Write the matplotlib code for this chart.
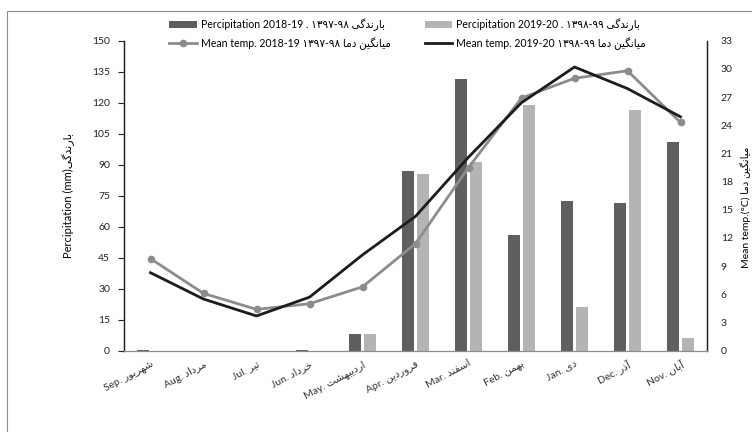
import matplotlib
matplotlib.use('Agg')
import matplotlib.pyplot as plt
from matplotlib.patches import Rectangle
import numpy as np

plt.rcParams['font.family'] = ['Lato', 'DejaVu Sans']

# data
months_en = ['Sep.', 'Aug.', 'Jul.', 'Jun.', 'May.', 'Apr.', 'Mar.', 'Feb.', 'Jan.', 'Dec.', 'Nov.']
months_fa = ['شهریور', 'مرداد', 'تیر', 'خرداد', 'اردیبهشت', 'فروردین', 'اسفند', 'بهمن', 'دی', 'آذر', 'آبان']
precip_2018 = [0.3, 0, 0, 0.3, 7.9, 87.1, 131.4, 56.0, 72.6, 71.3, 100.8]
precip_2019 = [0, 0, 0, 0, 7.9, 85.3, 91.1, 118.7, 21.1, 116.6, 6.1]
temp_2018 = [9.8, 6.1, 4.4, 5.0, 6.8, 11.4, 19.5, 26.9, 29.0, 29.8, 24.3]
temp_2019 = [8.3, 5.5, 3.7, 5.7, 10.2, 14.3, 20.6, 26.4, 30.2, 27.9, 24.9]

# simple persian shaping (matplotlib has no bidi / joining)
FORMS = {
    'ا': ('\uFE8D', '\uFE8E', None, None),
    'آ': ('\uFE81', '\uFE82', None, None),
    'ب': ('\uFE8F', '\uFE90', '\uFE91', '\uFE92'),
    'ت': ('\uFE95', '\uFE96', '\uFE97', '\uFE98'),
    'خ': ('\uFEA5', '\uFEA6', '\uFEA7', '\uFEA8'),
    'د': ('\uFEA9', '\uFEAA', None, None),
    'ذ': ('\uFEAB', '\uFEAC', None, None),
    'ر': ('\uFEAD', '\uFEAE', None, None),
    'س': ('\uFEB1', '\uFEB2', '\uFEB3', '\uFEB4'),
    'ش': ('\uFEB5', '\uFEB6', '\uFEB7', '\uFEB8'),
    'ف': ('\uFED1', '\uFED2', '\uFED3', '\uFED4'),
    'م': ('\uFEE1', '\uFEE2', '\uFEE3', '\uFEE4'),
    'ن': ('\uFEE5', '\uFEE6', '\uFEE7', '\uFEE8'),
    'ه': ('\uFEE9', '\uFEEA', '\uFEEB', '\uFEEC'),
    'و': ('\uFEED', '\uFEEE', None, None),
    'ی': ('\uFBFC', '\uFBFD', '\uFBFE', '\uFBFF'),
    'گ': ('\uFB92', '\uFB93', '\uFB94', '\uFB95'),
}


def fa(text):
    words = []
    for word in text.split(' '):
        shaped = []
        for i, c in enumerate(word):
            if c not in FORMS:
                shaped.append(c)
                continue
            prev = word[i - 1] if i > 0 else None
            nxt = word[i + 1] if i + 1 < len(word) else None
            join_prev = prev in FORMS and FORMS[prev][2] is not None
            join_next = FORMS[c][2] is not None and nxt in FORMS
            f = FORMS[c]
            if join_prev and join_next:
                shaped.append(f[3])
            elif join_prev:
                shaped.append(f[1])
            elif join_next:
                shaped.append(f[2])
            else:
                shaped.append(f[0])
        words.append(''.join(reversed(shaped)))
    return ' '.join(reversed(words))


x = np.arange(len(months_en))
labels = [m + ' ' + fa(p) for m, p in zip(months_en, months_fa)]

fig = plt.figure(figsize=(7.52, 4.32), dpi=100)
ax = fig.add_axes([124 / 752, 1 - 350.7 / 432, 583 / 752, 310 / 432])
ax2 = ax.twinx()

w = 0.23
b1 = ax.bar(x - 0.145, precip_2018, w, color='#5f5f5f',
            label='Percipitation 2018-19 . ۱۳۹۷-۹۸ ' + fa('بارندگی'))
b2 = ax.bar(x + 0.145, precip_2019, w, color='#b4b4b4',
            label='Percipitation 2019-20 . ۱۳۹۸-۹۹ ' + fa('بارندگی'))

l1, = ax2.plot(x, temp_2018, color='#8c8c8c', lw=2.0, marker='o', ms=4.5,
               label='Mean temp. 2018-19 ۱۳۹۷-۹۸ ' + fa('میانگین دما'))
l2, = ax2.plot(x, temp_2019, color='#1c1c1c', lw=2.0,
               label='Mean temp. 2019-20 ۱۳۹۸-۹۹ ' + fa('میانگین دما'))

ax.set_xlim(-0.5, len(x) - 0.5)
ax.set_ylim(0, 150)
ax.set_yticks(np.arange(0, 151, 15))
ax2.set_ylim(0, 33)
ax2.set_yticks(np.arange(0, 34, 3))

ax.set_xticks(x)
ax.set_xticklabels(labels, rotation=28, ha='right', rotation_mode='anchor',
                   fontsize=7.5, color='#333333')
ax.tick_params(axis='x', length=0, pad=6)
ax.tick_params(axis='y', labelsize=7.5, length=4, direction='out', pad=6, colors='#222222')
ax2.tick_params(axis='y', labelsize=7.5, length=0, pad=10, colors='#222222')

for a in (ax, ax2):
    a.spines['top'].set_visible(False)
    a.spines['bottom'].set_color('#8c8c8c')
    a.spines['left'].set_color('#222222')
    a.spines['right'].set_color('#222222')
    a.spines['left'].set_linewidth(0.9)
    a.spines['right'].set_linewidth(0.9)

ax.set_ylabel('Percipitation (mm)' + fa('بارندگی'), fontsize=8, labelpad=12)
fig.text(0.991, 0.52, 'Mean temp.(°C) ' + fa('میانگین دما'), rotation=90,
         ha='center', va='center', fontsize=7.5)

fig.legend([b1, l1, b2, l2], [b1.get_label(), l1.get_label(), b2.get_label(), l2.get_label()],
           loc='center', bbox_to_anchor=(0.542, 0.921), ncol=2, frameon=False,
           fontsize=7.6, handlelength=2.6, columnspacing=3.2, labelspacing=0.6,
           handletextpad=0.4)

fig.patches.append(Rectangle((7 / 752, -0.1), 1.2, 1 - 11 / 432 + 0.1,
                             transform=fig.transFigure, fill=False,
                             edgecolor='#8c8c8c', lw=0.8))

fig.savefig('out.png', dpi=100)
